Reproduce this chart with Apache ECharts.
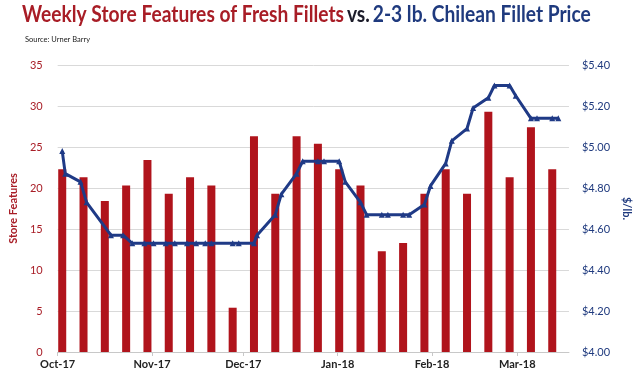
<!DOCTYPE html>
<html>
<head>
<meta charset="utf-8">
<script src="https://cdn.jsdelivr.net/npm/echarts@6/dist/echarts.min.js"></script>
<style>
  html, body { margin: 0; padding: 0; background: #ffffff; }
  #chart { width: 640px; height: 381px; }
</style>
</head>
<body>
<div id="chart"></div>
<script>
// ---- Data ----
const barDates = ['2017-10-02','2017-10-09','2017-10-16','2017-10-23','2017-10-30','2017-11-06','2017-11-13','2017-11-20','2017-11-27','2017-12-04','2017-12-11','2017-12-18','2017-12-25','2018-01-01','2018-01-08','2018-01-15','2018-01-22','2018-01-29','2018-02-05','2018-02-12','2018-02-19','2018-02-26','2018-03-05','2018-03-12'];
const storeFeatures = [22.3, 21.3, 18.4, 20.3, 23.4, 19.3, 21.3, 20.3, 5.4, 26.3, 19.3, 26.3, 25.4, 22.3, 20.3, 12.3, 13.3, 19.3, 22.3, 19.3, 29.3, 21.3, 27.4, 22.3];

const priceDates = ['2017-10-02','2017-10-03','2017-10-08','2017-10-10','2017-10-18','2017-10-22','2017-10-25','2017-10-29','2017-11-01','2017-11-05','2017-11-08','2017-11-12','2017-11-15','2017-11-18','2017-11-20','2017-11-27','2017-11-29','2017-12-04','2017-12-05','2017-12-11','2017-12-13','2017-12-18','2017-12-20','2017-12-25','2017-12-27','2018-01-01','2018-01-03','2018-01-08','2018-01-10','2018-01-15','2018-01-17','2018-01-22','2018-01-24','2018-01-29','2018-01-31','2018-02-05','2018-02-07','2018-02-12','2018-02-14','2018-02-19','2018-02-21','2018-02-26','2018-02-28','2018-03-05','2018-03-07','2018-03-12','2018-03-14'];
const filletPrice = [4.98, 4.87, 4.83, 4.73, 4.57, 4.57, 4.53, 4.53, 4.53, 4.53, 4.53, 4.53, 4.53, 4.53, 4.53, 4.53, 4.53, 4.53, 4.57, 4.67, 4.77, 4.87, 4.93, 4.93, 4.93, 4.93, 4.83, 4.73, 4.67, 4.67, 4.67, 4.67, 4.67, 4.72, 4.81, 4.92, 5.03, 5.09, 5.19, 5.24, 5.30, 5.30, 5.25, 5.14, 5.14, 5.14, 5.14];

const monthTickDates = ['2017-10-01','2017-11-01','2017-12-01','2018-01-01','2018-02-01','2018-03-01'];
const monthTickLabels = ['Oct-17','Nov-17','Dec-17','Jan-18','Feb-18','Mar-18'];
const axisStartDate = '2017-10-01';
const axisEndDate = '2018-03-18';

const leftTicks = { min: 0, max: 35, interval: 5 };
const rightTicks = { min: 4.0, max: 5.4, interval: 0.2 };

// ---- Helpers ----
function dayIndex(s) {
  const p = s.split('-').map(Number);
  const a = Date.UTC(p[0], p[1] - 1, p[2]);
  const b0 = axisStartDate.split('-').map(Number);
  const b = Date.UTC(b0[0], b0[1] - 1, b0[2]);
  return Math.round((a - b) / 86400000);
}
const monthTickVals = monthTickDates.map(dayIndex);
const labelByVal = {};
monthTickVals.forEach((v, i) => { labelByVal[v] = monthTickLabels[i]; });

const barData = barDates.map((d, i) => [dayIndex(d) + 0.5, storeFeatures[i]]);
const lineData = priceDates.map((d, i) => [dayIndex(d) + 0.5, filletPrice[i]]);

const RED = '#B0141C';
const NAVY = '#1F3A86';
const FONT = 'Lato';

const chart = echarts.init(document.getElementById('chart'), null, { renderer: 'canvas' });
chart.setOption({
  backgroundColor: '#ffffff',
  animation: false,
  textStyle: { fontFamily: FONT },
  graphic: [{
    type: 'text',
    x: 22, y: 4,
    scaleX: 0.873,
    style: {
      text: '{a|Weekly Store Features of Fresh Fillets} {b|vs.} {c|2-3 lb. Chilean Fillet Price}',
      verticalAlign: 'top',
      rich: {
        a: { fontFamily: FONT, fontWeight: 'bold', fontSize: 22, fill: '#A81D26' },
        b: { fontFamily: FONT, fontWeight: 'bold', fontSize: 22, fill: '#1c1c2a' },
        c: { fontFamily: FONT, fontWeight: 'bold', fontSize: 22, fill: '#1F3A7E' }
      }
    }
  }, {
    type: 'text',
    x: 25, y: 36,
    style: {
      text: 'Source: Urner Barry',
      verticalAlign: 'top',
      fontFamily: FONT, fontSize: 7.5, fill: '#222'
    }
  }],
  grid: { left: 48, right: 68, top: 65, bottom: 29, containLabel: false },
  xAxis: {
    type: 'value',
    min: dayIndex(axisStartDate),
    max: dayIndex(axisEndDate),
    splitLine: { show: false },
    axisLine: { show: true, lineStyle: { color: '#c8c8c8', width: 1 } },
    axisTick: { show: true, customValues: monthTickVals, length: 4, lineStyle: { color: '#c8c8c8' } },
    axisLabel: {
      customValues: monthTickVals,
      formatter: v => labelByVal[Math.round(v)] || '',
      color: '#222', fontSize: 11, fontWeight: 'bold', margin: 7, fontFamily: FONT
    }
  },
  yAxis: [{
    type: 'value',
    min: leftTicks.min, max: leftTicks.max, interval: leftTicks.interval,
    name: 'Store Features',
    nameLocation: 'middle',
    nameGap: 31,
    nameTextStyle: { color: '#A81D26', fontSize: 11, fontWeight: 'bold', fontFamily: FONT },
    axisLine: { show: false },
    axisTick: { show: false },
    axisLabel: { color: '#A81D26', fontSize: 11, margin: 15, fontFamily: FONT },
    splitLine: { show: true, lineStyle: { color: '#d9d9d9', width: 1 } }
  }, {
    type: 'value',
    min: rightTicks.min, max: rightTicks.max, interval: rightTicks.interval,
    name: '$/lb.',
    nameLocation: 'middle',
    nameGap: 47,
    nameRotate: -90,
    nameTextStyle: { color: '#1F3A7E', fontSize: 11, fontWeight: 'bold', fontFamily: FONT },
    axisLine: { show: false },
    axisTick: { show: false },
    axisLabel: { color: '#1F3A7E', fontSize: 11, margin: 13, fontFamily: FONT, formatter: v => '$' + v.toFixed(2) },
    splitLine: { show: false }
  }],
  series: [{
    name: 'Store Features',
    type: 'bar',
    yAxisIndex: 0,
    data: barData,
    barWidth: 8,
    itemStyle: { color: RED },
    z: 2
  }, {
    name: 'Price',
    type: 'line',
    yAxisIndex: 1,
    data: lineData,
    symbol: 'triangle',
    symbolSize: 6,
    showAllSymbol: true,
    lineStyle: { color: NAVY, width: 3 },
    itemStyle: { color: NAVY },
    z: 3
  }]
});
</script>
</body>
</html>
